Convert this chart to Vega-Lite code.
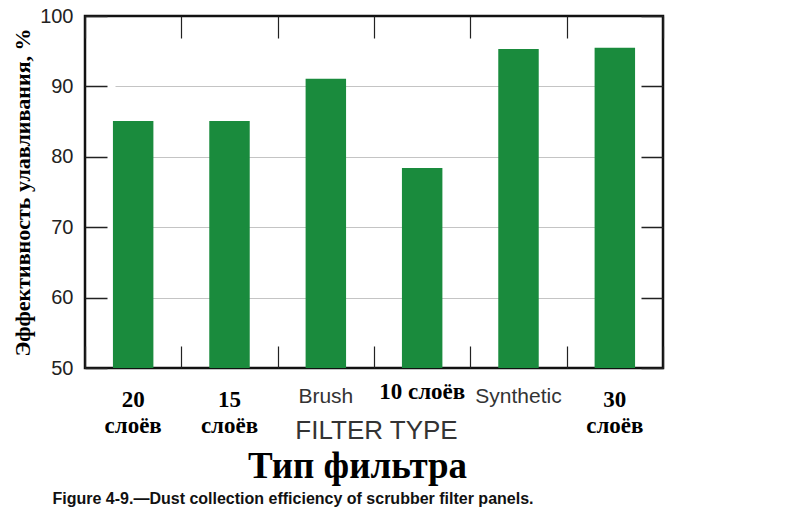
{
  "$schema": "https://vega.github.io/schema/vega-lite/v6.json",
  "width": 578,
  "height": 352,
  "autosize": "none",
  "padding": {"left": 85, "top": 16, "right": 123, "bottom": 144},
  "background": "white",
  "config": {"view": {"stroke": "#111111", "strokeWidth": 2.5}},
  "data": {
    "values": [
      {"filter": "20 слоёв", "efficiency": 85.1},
      {"filter": "15 слоёв", "efficiency": 85.1},
      {"filter": "Brush", "efficiency": 91.1},
      {"filter": "10 слоёв", "efficiency": 78.4},
      {"filter": "Synthetic", "efficiency": 95.3},
      {"filter": "30 слоёв", "efficiency": 95.5}
    ]
  },
  "layer": [
    {
      "mark": {"type": "bar", "color": "#1a8b3d", "width": {"band": 0.42}},
      "encoding": {
        "x": {
          "field": "filter",
          "type": "nominal",
          "sort": null,
          "scale": {"paddingInner": 0, "paddingOuter": 0},
          "axis": {
            "orient": "bottom",
            "domain": false,
            "ticks": false,
            "labels": false,
            "tickBand": "extent",
            "grid": true,
            "gridColor": "#222222",
            "gridWidth": 1.2,
            "gridDash": [22, 308, 22],
            "title": "FILTER TYPE",
            "titleFont": "Liberation Sans",
            "titleFontSize": 26,
            "titleFontWeight": "normal",
            "titleColor": "#333333",
            "titleX": 291,
            "titleY": 62,
            "titleAlign": "center",
            "titleBaseline": "middle"
          }
        },
        "y": {
          "field": "efficiency",
          "type": "quantitative",
          "scale": {"domain": [50, 100], "nice": false, "zero": false},
          "axis": {
            "orient": "left",
            "domain": false,
            "ticks": false,
            "values": [50, 60, 70, 80, 90, 100],
            "grid": true,
            "gridColor": "#222222",
            "gridWidth": 1.5,
            "gridDash": [22, 534, 22],
            "labelFont": "Liberation Sans",
            "labelFontSize": 20,
            "labelColor": "#222222",
            "labelPadding": 12,
            "title": "Эффективность улавливания, %",
            "titleFont": "Liberation Serif",
            "titleFontWeight": "bold",
            "titleFontSize": 22,
            "titleColor": "#000000",
            "titleAngle": -90,
            "titleX": -63,
            "titleY": 176,
            "titleAlign": "center",
            "titleBaseline": "middle"
          }
        },
        "y2": {"datum": 50}
      }
    },
    {
      "mark": {"type": "bar", "opacity": 0},
      "encoding": {
        "x": {
          "field": "filter",
          "type": "nominal",
          "sort": null,
          "axis": {
            "orient": "top",
            "domain": false,
            "labels": false,
            "ticks": false,
            "grid": false,
            "title": "Тип фильтра",
            "titleFont": "Liberation Serif",
            "titleFontSize": 37,
            "titleFontWeight": "bold",
            "titleColor": "#000000",
            "titleX": 272,
            "titleY": 450,
            "titleAlign": "center",
            "titleBaseline": "middle"
          }
        },
        "y": {
          "field": "efficiency",
          "type": "quantitative",
          "axis": {
            "orient": "right",
            "domain": false,
            "labels": false,
            "ticks": false,
            "grid": true,
            "gridColor": "#c4c4c4",
            "gridWidth": 1,
            "gridDash": [0, 30, 518, 30],
            "values": [60, 70, 80, 90],
            "title": "Figure 4-9.—Dust collection efficiency of scrubber filter panels.",
            "titleFont": "Liberation Sans",
            "titleFontSize": 16,
            "titleFontWeight": "bold",
            "titleColor": "#111111",
            "titleAngle": 0,
            "titleX": -611,
            "titleY": 482,
            "titleAlign": "left",
            "titleBaseline": "middle"
          }
        },
        "y2": {"datum": 50}
      }
    },
    {
      "transform": [{"filter": {"field": "filter", "oneOf": ["20 слоёв", "15 слоёв", "30 слоёв"]}}],
      "mark": {"type": "text", "font": "Liberation Serif", "fontWeight": "bold", "fontSize": 23, "lineBreak": " ", "lineHeight": 26, "baseline": "middle", "align": "center", "dy": 32, "color": "#000000"},
      "encoding": {
        "x": {"field": "filter", "type": "nominal", "sort": null, "axis": null},
        "y": {"datum": 50, "type": "quantitative", "axis": null},
        "text": {"field": "filter", "type": "nominal"}
      }
    },
    {
      "transform": [{"filter": {"field": "filter", "equal": "10 слоёв"}}],
      "mark": {"type": "text", "font": "Liberation Serif", "fontWeight": "bold", "fontSize": 23, "baseline": "middle", "align": "center", "dy": 24, "color": "#000000"},
      "encoding": {
        "x": {"field": "filter", "type": "nominal", "sort": null, "axis": null},
        "y": {"datum": 50, "type": "quantitative", "axis": null},
        "text": {"field": "filter", "type": "nominal"}
      }
    },
    {
      "transform": [{"filter": {"field": "filter", "oneOf": ["Brush", "Synthetic"]}}],
      "mark": {"type": "text", "font": "Liberation Sans", "fontWeight": "normal", "fontSize": 21, "baseline": "middle", "align": "center", "dy": 29, "color": "#333333"},
      "encoding": {
        "x": {"field": "filter", "type": "nominal", "sort": null, "axis": null},
        "y": {"datum": 50, "type": "quantitative", "axis": null},
        "text": {"field": "filter", "type": "nominal"}
      }
    }
  ]
}
